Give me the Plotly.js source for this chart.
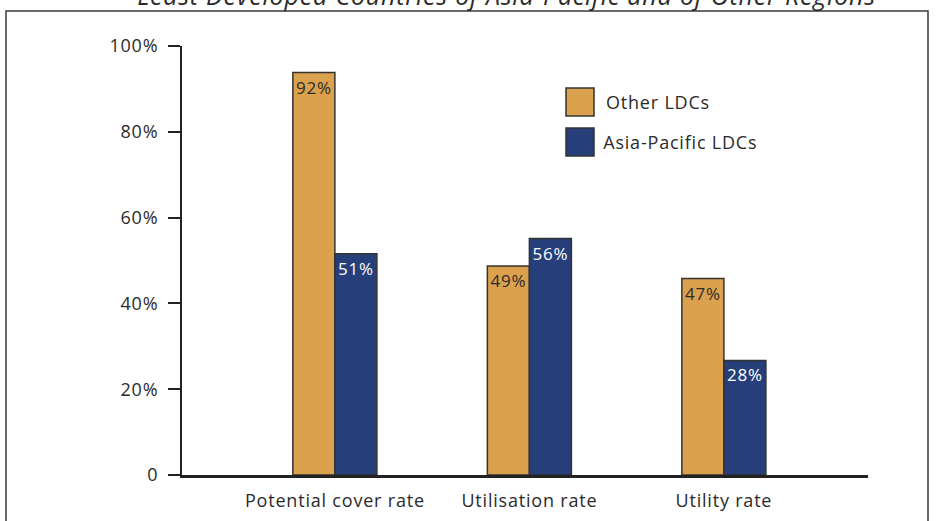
<!DOCTYPE html>
<html>
<head>
<meta charset="utf-8">
<script src="https://cdn.plot.ly/plotly-3.0.1.min.js"></script>
<style>
html,body{margin:0;padding:0;background:#fff;}
#chart{width:937px;height:521px;}
#chart svg text{letter-spacing:0.8px;}
</style>
</head>
<body>
<div id="chart"></div>
<script>
const categories = ["Potential cover rate", "Utilisation rate", "Utility rate"];
const seriesNames = ["Other LDCs", "Asia-Pacific LDCs"];
const otherValues = [93.8, 48.7, 45.8];
const asiaValues = [51.6, 55.1, 26.7];
const otherLabels = ["92%", "49%", "47%"];
const asiaLabels = ["51%", "56%", "28%"];
const yTickVals = [0, 20, 40, 60, 80, 100];
const yTickText = ["0", "20%", "40%", "60%", "80%", "100%"];
const titleText = "Least Developed Countries of Asia-Pacific and of Other Regions";

const orange = "#DBA14D", blue = "#263F7A", ink = "#2b2b2b";
const FONT = "Open Sans, sans-serif";

const traces = [
  {type: "bar", name: seriesNames[0], x: categories, y: otherValues, text: otherLabels,
   textposition: "inside", insidetextanchor: "end", textangle: 0, constraintext: "none",
   textfont: {family: FONT, size: 17, color: ink},
   marker: {color: orange, line: {color: "#333", width: 1.5}}, hoverinfo: "skip"},
  {type: "bar", name: seriesNames[1], x: categories, y: asiaValues, text: asiaLabels,
   textposition: "inside", insidetextanchor: "end", textangle: 0, constraintext: "none",
   textfont: {family: FONT, size: 17, color: "#ffffff"},
   marker: {color: blue, line: {color: "#333", width: 1.5}}, hoverinfo: "skip"}
];

const L = 182, R = 868, T = 46, B = 475, W = 937, H = 521;
const px = v => (v - L) / (R - L);
const py = v => (B - v) / (B - T);

const shapes = [
  {type: "rect", xref: "paper", yref: "paper", x0: px(6), x1: px(928), y0: py(560), y1: py(11),
   line: {color: "#3a3a3a", width: 1.5}, fillcolor: "rgba(0,0,0,0)", layer: "below"},
  {type: "rect", xref: "paper", yref: "paper", x0: px(566), x1: px(594), y0: py(116), y1: py(88),
   line: {color: "#333", width: 1.5}, fillcolor: orange},
  {type: "rect", xref: "paper", yref: "paper", x0: px(566), x1: px(594), y0: py(156), y1: py(128),
   line: {color: "#333", width: 1.5}, fillcolor: blue}
];
const annotations = [
  {xref: "paper", yref: "paper", x: px(506), y: py(-5), xanchor: "center", yanchor: "middle",
   text: "<i>" + titleText + "</i>", showarrow: false, font: {family: FONT, size: 25, color: ink}},
  {xref: "paper", yref: "paper", x: px(608), y: py(102), xanchor: "left", yanchor: "middle",
   text: seriesNames[0], showarrow: false, font: {family: FONT, size: 18, color: ink}},
  {xref: "paper", yref: "paper", x: px(608), y: py(142), xanchor: "left", yanchor: "middle",
   text: seriesNames[1], showarrow: false, font: {family: FONT, size: 18, color: ink}}
];

const layout = {
  width: W, height: H,
  margin: {l: L, r: W - R, t: T, b: H - B, pad: 0},
  paper_bgcolor: "#fff", plot_bgcolor: "#fff",
  showlegend: false,
  barmode: "group", bargap: 0.568, bargroupgap: 0,
  xaxis: {type: "category", range: [-0.786, 2.741], showgrid: false, zeroline: false,
          showline: true, linecolor: "#222", linewidth: 2.5, ticks: "",
          tickfont: {family: FONT, size: 18, color: ink}, ticklabelstandoff: 8, fixedrange: true},
  yaxis: {range: [0, 100], tickvals: yTickVals, ticktext: yTickText, showgrid: false, zeroline: false,
          showline: true, linecolor: "#222", linewidth: 2, ticks: "outside", ticklen: 12, tickwidth: 2,
          tickcolor: "#222", tickfont: {family: FONT, size: 18, color: ink}, ticklabelstandoff: 6,
          fixedrange: true},
  shapes: shapes, annotations: annotations,
  font: {family: FONT}
};
Plotly.newPlot("chart", traces, layout, {displayModeBar: false, staticPlot: true});
</script>
</body>
</html>
